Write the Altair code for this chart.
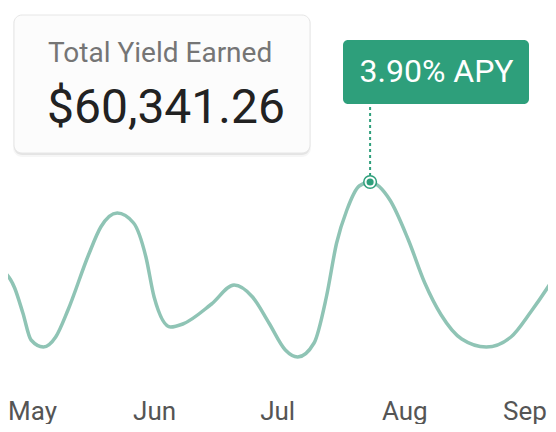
import altair as alt
import pandas as pd

# ---- data ----
DATES = [
    "2024-04-24T00:00", "2024-04-28T00:00", "2024-04-30T00:00", "2024-05-02T00:00", "2024-05-05T00:00",
    "2024-05-08T00:00", "2024-05-11T00:00", "2024-05-16T00:00", "2024-05-19T00:00", "2024-05-23T00:00",
    "2024-05-27T00:00", "2024-05-30T00:00", "2024-06-01T00:00", "2024-06-05T00:00", "2024-06-08T00:00",
    "2024-06-15T00:00", "2024-06-20T12:00", "2024-06-25T00:00", "2024-06-29T00:00", "2024-07-03T00:00",
    "2024-07-06T00:00", "2024-07-10T00:00", "2024-07-13T00:00", "2024-07-15T12:00", "2024-07-18T00:00",
    "2024-07-21T00:00", "2024-07-23T16:00", "2024-07-28T12:00", "2024-08-02T00:00", "2024-08-06T00:00",
    "2024-08-10T00:00", "2024-08-15T00:00", "2024-08-21T00:00", "2024-08-27T00:00", "2024-09-01T00:00",
    "2024-09-06T00:00", "2024-09-08T00:00",
]
APY = [
    3.04, 2.84, 2.59, 2.32, 2.25,
    2.35, 2.62, 3.17, 3.45, 3.59,
    3.49, 3.15, 2.75, 2.45, 2.48,
    2.68, 2.87, 2.75, 2.49, 2.22,
    2.15, 2.29, 2.75, 3.29, 3.62,
    3.86, 3.90, 3.72, 3.32, 2.89,
    2.57, 2.33, 2.25, 2.35, 2.61,
    2.91, 3.04,
]
MONTH_TICKS = [5, 6, 7, 8, 9]
CARD_TITLE = ["Total Yield Earned"]
CARD_VALUE = ["$60,341.26"]
PEAK_INDEX = 26

GREEN = "#2e9f7b"
LINE = "#8fc4b5"
FONT = "Roboto"

df = pd.DataFrame({"date": DATES, "apy": APY})
peak = pd.DataFrame({
    "date": [DATES[PEAK_INDEX]],
    "apy": [APY[PEAK_INDEX]],
    "label": [f"{APY[PEAK_INDEX]:.2f}% APY"],
})
card = pd.DataFrame({"title": CARD_TITLE, "value": CARD_VALUE})

W, H = 540, 382

# 4.1 px per day, May 1 at x = 19 (plot coords)
xscale = alt.Scale(
    domain=[alt.DateTime(year=2024, month=4, date=26, hours=9),
            alt.DateTime(year=2024, month=9, date=5, hours=1)]
)
yscale = alt.Scale(domain=[1.82, 5.64], zero=False, nice=False)

x_axis = alt.Axis(
    values=[alt.DateTime(year=2024, month=m, date=1) for m in MONTH_TICKS],
    format="%b", title=None, domain=False, ticks=False, tickSize=0, grid=False,
    labelFont=FONT, labelFontSize=26, labelColor="#555555",
    labelBaseline="alphabetic", labelPadding=29, labelFlush=False, labelOverlap=False,
    labelOffset={"condition": [
        {"test": "month(datum.value) == 4", "value": 5},
        {"test": "month(datum.value) == 8", "value": -7},
    ], "value": 0},
)


def X():
    return alt.X("date:T", scale=xscale, axis=x_axis)


def Y():
    return alt.Y("apy:Q", scale=yscale, axis=None)


line = alt.Chart(df).mark_line(
    color=LINE, strokeWidth=3.5, interpolate="monotone", clip=True
).encode(x=X(), y=Y())

# card with soft shadow
shadow2 = alt.Chart(card).mark_rect(
    fill="#000000", opacity=0.035, cornerRadius=9
).encode(x=alt.value(5), x2=alt.value(303), y=alt.value(7), y2=alt.value(149))
shadow1 = alt.Chart(card).mark_rect(
    fill="#000000", opacity=0.07, cornerRadius=8
).encode(x=alt.value(6), x2=alt.value(302), y=alt.value(8), y2=alt.value(147))
card_rect = alt.Chart(card).mark_rect(
    fill="#fcfcfc", stroke="#e6e6e6", strokeWidth=1, cornerRadius=8
).encode(x=alt.value(6), x2=alt.value(302), y=alt.value(7), y2=alt.value(145))
card_title = alt.Chart(card).mark_text(
    font=FONT, fontSize=28, color="#757575", align="left", baseline="alphabetic"
).encode(x=alt.value(40), y=alt.value(54), text="title:N")
card_value = alt.Chart(card).mark_text(
    font=FONT, fontSize=48, color="#222222", align="left", baseline="alphabetic"
).encode(x=alt.value(39), y=alt.value(115), text="value:N")

# APY tooltip
rule = alt.Chart(peak).mark_rule(
    color=GREEN, strokeWidth=2, strokeDash=[3, 3]
).encode(x=X(), y=Y(), y2=alt.value(96))
box = alt.Chart(peak).mark_rect(fill=GREEN, cornerRadius=5).encode(
    x=alt.value(335), x2=alt.value(521), y=alt.value(32), y2=alt.value(96)
)
box_text = alt.Chart(peak).mark_text(
    font=FONT, fontSize=32, color="white", align="center", baseline="alphabetic"
).encode(x=alt.value(428.5), y=alt.value(74), text="label:N")
ring = alt.Chart(peak).mark_circle(
    size=160, fill="#ffffff", fillOpacity=0.9, stroke=GREEN, strokeWidth=1.5, opacity=1
).encode(x=X(), y=Y())
dot = alt.Chart(peak).mark_circle(size=50, color=GREEN, opacity=1).encode(x=X(), y=Y())

chart = alt.layer(
    line, shadow2, shadow1, card_rect, card_title, card_value,
    rule, box, box_text, ring, dot
).properties(
    width=W, height=H,
    autosize=alt.AutoSizeParams(type="none"),
    padding={"left": 0, "top": 0, "right": 0, "bottom": 34},
    background="white",
).configure_view(stroke=None)

chart.save("out.html", embed_options={"renderer": "svg", "actions": False})
